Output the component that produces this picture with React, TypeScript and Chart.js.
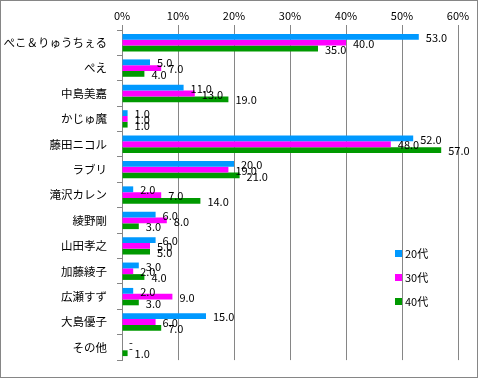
import React, { useEffect, useRef } from "react";
import { Chart, registerables } from "chart.js";

Chart.register(...registerables);

const categories = [
  "ぺこ＆りゅうちぇる",
  "ぺえ",
  "中島美嘉",
  "かじゅ魔",
  "藤田ニコル",
  "ラブリ",
  "滝沢カレン",
  "綾野剛",
  "山田孝之",
  "加藤綾子",
  "広瀬すず",
  "大島優子",
  "その他",
];
const series20 = [53, 5, 11, 1, 52, 20, 2, 6, 6, 3, 2, 15, 0];
const series30 = [40, 7, 13, 1, 48, 19, 7, 8, 5, 2, 9, 6, 0];
const series40 = [35, 4, 19, 1, 57, 21, 14, 3, 5, 4, 3, 7, 1];
const seriesNames = ["20代", "30代", "40代"];
const seriesColors = ["#0099FF", "#FF00FF", "#009900"];
const xTicks = [0, 10, 20, 30, 40, 50, 60];

const FONT = '"Noto Sans CJK JP", "Noto Sans", sans-serif';

const labelPlugin = {
  id: "valueLabelsAndLegend",
  afterDatasetsDraw(chart: any) {
    const ctx = chart.ctx;
    ctx.save();
    ctx.font = `11px ${FONT}`;
    ctx.fillStyle = "#000";
    ctx.textBaseline = "middle";
    ctx.textAlign = "left";
    chart.data.datasets.forEach((ds: any, i: number) => {
      const meta = chart.getDatasetMeta(i);
      meta.data.forEach((bar: any, j: number) => {
        const v = ds.data[j];
        const txt = v === 0 ? "-" : Number(v).toFixed(1);
        ctx.fillText(txt, bar.x + 7, bar.y + 1);
      });
    });
    // legend
    const lx = 394;
    const ly = [249, 273, 297];
    seriesNames.forEach((name, i) => {
      ctx.fillStyle = seriesColors[i];
      ctx.fillRect(lx, ly[i], 7, 7);
      ctx.fillStyle = "#000";
      ctx.fillText(name, lx + 10, ly[i] + 4);
    });
    ctx.restore();
  },
};

export default function App() {
  const ref = useRef<HTMLCanvasElement>(null);
  useEffect(() => {
    if (!ref.current) return;
    const chart = new Chart(ref.current, {
      type: "bar",
      data: {
        labels: categories,
        datasets: [series20, series30, series40].map((d, i) => ({
          label: seriesNames[i],
          data: d,
          backgroundColor: seriesColors[i],
          borderWidth: 0,
          barPercentage: 1,
          categoryPercentage: 0.684,
        })),
      },
      options: {
        indexAxis: "y",
        responsive: false,
        animation: false,
        layout: { padding: { left: 0, right: 19, top: 0, bottom: 5 } },
        plugins: {
          legend: { display: false },
          tooltip: { enabled: false },
        },
        scales: {
          x: {
            position: "top",
            min: 0,
            max: 60,
            afterFit: (s: any) => {
              s.height = 29;
            },
            afterBuildTicks: (s: any) => {
              s.ticks = xTicks.map((v) => ({ value: v }));
            },
            ticks: {
              callback: (v: any) => `${v}%`,
              font: { family: FONT, size: 11 },
              color: "#000",
              padding: 3,
            },
            grid: {
              color: "#868686",
              lineWidth: 1,
              tickLength: 5,
              drawTicks: true,
            },
            border: { display: false },
          },
          y: {
            afterFit: (s: any) => {
              s.width = 121;
            },
            ticks: {
              font: { family: FONT, size: 11.5 },
              color: "#000",
              padding: 10,
              autoSkip: false,
            },
            grid: {
              offset: true,
              drawOnChartArea: false,
              drawTicks: true,
              tickLength: 5,
              color: "#868686",
            },
            border: { display: true, color: "#868686", width: 1 },
          },
        },
      },
      plugins: [labelPlugin],
    } as any);
    return () => chart.destroy();
  }, []);
  return (
    <div
      style={{
        position: "fixed",
        left: 0,
        top: 0,
        width: 478,
        height: 378,
        boxSizing: "border-box",
        border: "1px solid #868686",
        background: "#fff",
      }}
    >
      <canvas ref={ref} width={476} height={376} style={{ display: "block" }} />
    </div>
  );
}
